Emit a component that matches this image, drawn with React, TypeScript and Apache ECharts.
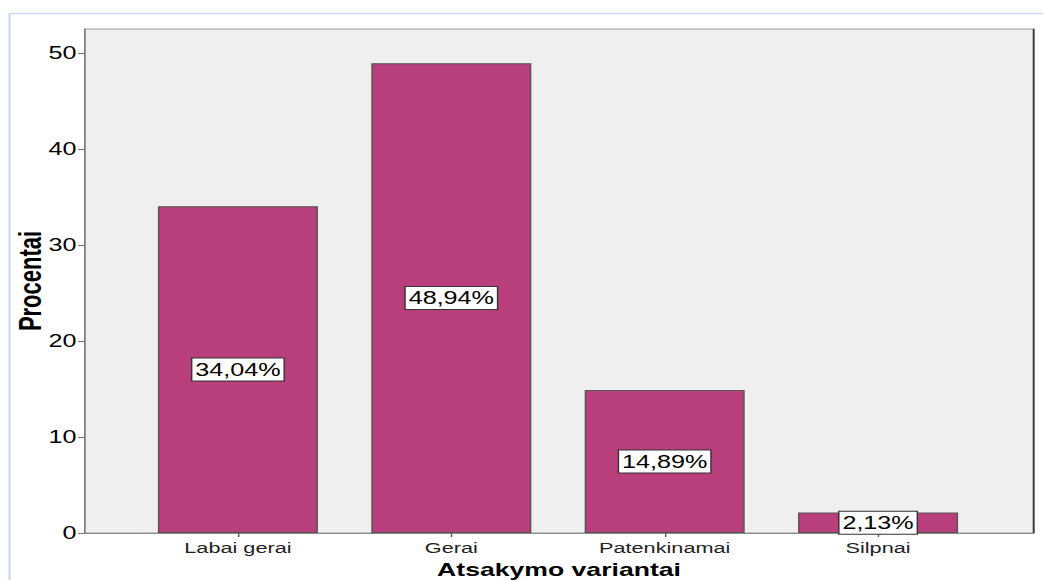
import React, { useEffect, useRef } from "react";
import * as echarts from "echarts";

const categories = ["Labai gerai", "Gerai", "Patenkinamai", "Silpnai"];
const percents = [34.04, 48.94, 14.89, 2.13];
const yTicks = [0, 10, 20, 30, 40, 50];
const yMax = 52.5;

// The reference image is horizontally stretched; we render narrower and stretch with CSS.
const STRETCH = 1.4;
const BASE_W = 1043 / STRETCH;

export default function App() {
  const ref = useRef<HTMLDivElement>(null);
  useEffect(() => {
    if (!ref.current) return;
    const chart = echarts.init(ref.current, null, { renderer: "svg" });
    const option: any = {
      animation: false,
      backgroundColor: "#ffffff",
      textStyle: { fontFamily: 'Arial, "Liberation Sans", sans-serif' },
      graphic: [
        {
          type: "rect",
          z: -10,
          shape: { x: 6.8, y: 13.5, width: 900, height: 700 },
          style: { fill: "none", stroke: "#c6d9f1", lineWidth: 1.5 },
        },
      ],
      grid: [
        {
          left: 60.7,
          right: BASE_W - 737.9,
          top: 29,
          height: 504,
          outerBoundsMode: "none",
          containLabel: false,
          show: true,
          backgroundColor: "#efefef",
          borderColor: "#9a9a9a",
          borderWidth: 1,
        },
        {
          left: 93.75,
          right: BASE_W - 703.4,
          top: 29,
          height: 504,
          outerBoundsMode: "none",
          containLabel: false,
        },
      ],
      xAxis: [
        {
          gridIndex: 0,
          type: "value",
          min: 0,
          max: 1,
          axisLine: { show: true, lineStyle: { color: "#8a8a8a" } },
          axisTick: { show: false },
          axisLabel: { show: false },
          splitLine: { show: false },
          name: "Atsakymo variantai",
          nameLocation: "middle",
          nameGap: 27,
          nameMoveOverlap: false,
          nameTextStyle: { fontSize: 19, fontWeight: "bold", color: "#000" },
        },
        {
          gridIndex: 1,
          type: "category",
          data: categories,
          axisLine: { show: false },
          axisTick: { show: true, alignWithLabel: true, length: 4, lineStyle: { color: "#555" } },
          axisLabel: { fontSize: 15.5, color: "#222", margin: 7 },
        },
      ],
      yAxis: [
        {
          gridIndex: 0,
          type: "value",
          min: 0,
          max: yMax,
          interval: 10,
          axisLine: { show: true, lineStyle: { color: "#7a7a7a" } },
          axisTick: { show: true, length: 5, customValues: yTicks, lineStyle: { color: "#7a7a7a" } },
          axisLabel: { customValues: yTicks, fontSize: 18, color: "#000", margin: 6 },
          splitLine: { show: false },
          name: "Procentai",
          nameLocation: "middle",
          nameGap: 28,
          nameMoveOverlap: false,
          nameTextStyle: { fontSize: 22, fontWeight: "bold", color: "#000" },
        },
        {
          gridIndex: 0,
          type: "value",
          position: "right",
          min: 0,
          max: yMax,
          axisLine: { show: true, lineStyle: { color: "#222" } },
          axisTick: { show: false },
          axisLabel: { show: false },
          splitLine: { show: false },
        },
        { gridIndex: 1, type: "value", min: 0, max: yMax, show: false },
      ],
      series: [
        {
          type: "bar",
          xAxisIndex: 1,
          yAxisIndex: 2,
          data: percents,
          barWidth: "75%",
          itemStyle: { color: "#b93f7c", borderColor: "#555", borderWidth: 1 },
          label: {
            show: true,
            position: "inside",
            formatter: (p: any) => p.value.toFixed(2).replace(".", ",") + "%",
            fontSize: 18,
            color: "#000",
            backgroundColor: "#fff",
            borderColor: "#333",
            borderWidth: 1,
            padding: [2, 2],
          },
        },
      ],
    };
    chart.setOption(option);
    return () => chart.dispose();
  }, []);
  return (
    <div
      ref={ref}
      style={{
        position: "absolute",
        left: 0,
        top: 0,
        width: BASE_W,
        height: 580,
        transform: `scaleX(${STRETCH})`,
        transformOrigin: "0 0",
      }}
    />
  );
}
